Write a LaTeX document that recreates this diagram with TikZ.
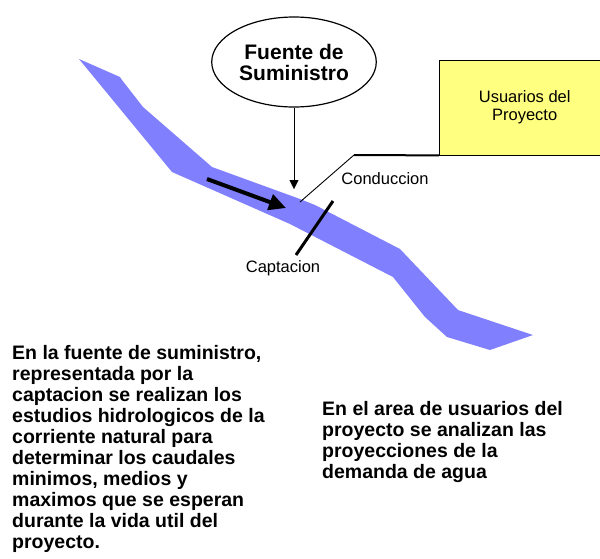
\documentclass[tikz,border=0pt]{standalone}
\usepackage{fontspec}
\setmainfont{Liberation Sans}
\usetikzlibrary{shapes.geometric,arrows.meta}
\definecolor{riverblue}{RGB}{128,128,255}
\definecolor{userfill}{RGB}{255,255,128}

\begin{document}
\begin{tikzpicture}[x=1pt,y=-1pt,
  bigtext/.style={font=\fontsize{19.5}{21}\selectfont\bfseries, align=left, inner sep=0pt, anchor=north west},
  smalltext/.style={font=\fontsize{16.5}{18}\selectfont, inner sep=0pt, anchor=base},
  ]
  \useasboundingbox (0,0) rectangle (600,558);
  \clip (0,0) rectangle (600,558);

  \fill[riverblue] (79,59) -- (120,77) -- (122,80) -- (143,107) -- (212,167)
    -- (300,199) -- (315,205) -- (400,249) -- (458,310) -- (533,335)
    -- (490,350) -- (447,337) -- (425,317) -- (393,277) -- (290,224)
    -- (172,172) -- cycle;

  \node[ellipse, draw, line width=1.2pt, minimum width=138pt, minimum height=90pt,
    align=center, font=\fontsize{21}{21}\selectfont\bfseries] (fuente) at (294,62)
    {Fuente de\\Suministro};
  \node[draw, fill=userfill, anchor=north west, minimum width=171pt, minimum height=95pt,
    align=center, font=\fontsize{16.5}{18}\selectfont] (usuarios) at (439,60)
    {Usuarios del\\Proyecto};

  \coordinate (entrada) at (294,189);
  \coordinate (toma) at (300,202);
  \coordinate (codo) at (354,155);
  \coordinate (presaA) at (333,201);
  \coordinate (presaB) at (296,255);
  \coordinate (flujoA) at (207,179);
  \coordinate (flujoB) at (286,208);

  \draw[-{Triangle[length=9pt,width=9pt]}] (fuente) -- (entrada);
  \draw[line width=0.9pt] (toma) -- (codo);
  \draw[line width=2pt] (codo) -- (usuarios.south west);
  \draw[line width=3pt] (presaA) -- (presaB);
  \draw[line width=4pt, -{Triangle[length=17pt,width=16pt]}] (flujoA) -- (flujoB);

  \node[smalltext] (conduccion) at (385,184) {Conduccion};
  \node[smalltext] (captacion) at (283,272) {Captacion};

  \node[bigtext] (notafuente) at (12,345) {En la fuente de suministro,\\representada por la\\captacion se realizan los\\estudios hidrologicos de la\\corriente natural para\\determinar los caudales\\minimos, medios y\\maximos que se esperan\\durante la vida util del\\proyecto.};
  \node[bigtext] (notausuarios) at (322,401) {En el area de usuarios del\\proyecto se analizan las\\proyecciones de la\\demanda de agua};
\end{tikzpicture}
\end{document}
